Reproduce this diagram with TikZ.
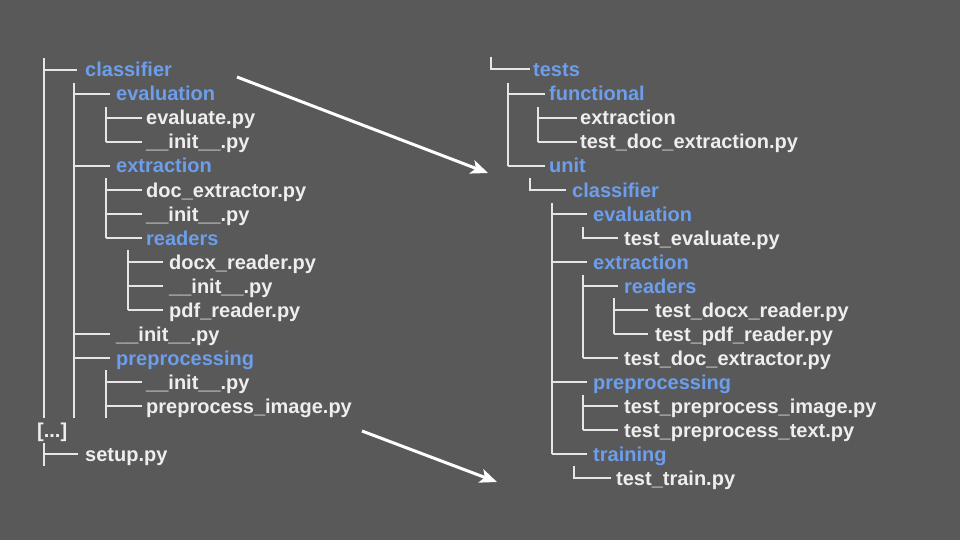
\documentclass[tikz,border=0pt]{standalone}
\usepackage{fontspec}
\setmainfont{Liberation Sans}
\usetikzlibrary{arrows.meta}
\definecolor{bg}{HTML}{595959}
\definecolor{fg}{HTML}{EEEEEE}
\definecolor{dirblue}{HTML}{6D9EEB}
\definecolor{linegray}{HTML}{E6E6E6}
\begin{document}
\begin{tikzpicture}[x=1pt,y=-1pt,
  tl/.style={draw=linegray,line width=1.4pt},
  fl/.style={anchor=base west,inner sep=0pt,yshift=-7pt,text=fg,font=\fontsize{20}{24}\selectfont\bfseries},
  dl/.style={fl,text=dirblue},
  bigarrow/.style={draw=white,line width=3pt,-{Stealth[length=17pt,width=14pt,inset=4pt]}}]
\fill[bg] (0,0) rectangle (960,540);
\useasboundingbox (0,0) rectangle (960,540);
% ---------- left tree ----------
\node[dl] (lclassifier) at (85,70) {classifier};
\node[dl] (levaluation) at (116,94) {evaluation};
\node[fl] (levaluate) at (146,118) {evaluate.py};
\node[fl] (linita) at (146,142) {\_\_init\_\_.py};
\node[dl] (lextraction) at (116,166) {extraction};
\node[fl] (ldocext) at (146,190) {doc\_extractor.py};
\node[fl] (linitb) at (146,214) {\_\_init\_\_.py};
\node[dl] (lreaders) at (146,238) {readers};
\node[fl] (ldocx) at (169,262) {docx\_reader.py};
\node[fl] (linitc) at (169,286) {\_\_init\_\_.py};
\node[fl] (lpdf) at (169,310) {pdf\_reader.py};
\node[fl] (linitd) at (116,334) {\_\_init\_\_.py};
\node[dl] (lprep) at (116,358) {preprocessing};
\node[fl] (linite) at (146,382) {\_\_init\_\_.py};
\node[fl] (lprepimg) at (146,406) {preprocess\_image.py};
\node[fl] (ldots) at (37,430) {[...]};
\node[fl] (lsetup) at (85,454) {setup.py};
\draw[tl] (44,58) -- (44,418);
\draw[tl] (44,70) -- (77,70);
\draw[tl] (74,83) -- (74,418);
\foreach \y in {94,166,334,358} \draw[tl] (74,\y) -- (110,\y);
\draw[tl] (106,107) -- (106,142);
\foreach \y in {118,142} \draw[tl] (106,\y) -- (142,\y);
\draw[tl] (106,178) -- (106,238);
\foreach \y in {190,214,238} \draw[tl] (106,\y) -- (142,\y);
\draw[tl] (128,250) -- (128,310);
\foreach \y in {262,286,310} \draw[tl] (128,\y) -- (163,\y);
\draw[tl] (106,370) -- (106,418);
\foreach \y in {382,406} \draw[tl] (106,\y) -- (142,\y);
\draw[tl] (44,443) -- (44,466);
\draw[tl] (44,454) -- (78,454);
% ---------- right tree ----------
\node[dl] (rtests) at (533,70) {tests};
\node[dl] (rfunc) at (549,94) {functional};
\node[fl] (rfext) at (580,118) {extraction};
\node[fl] (rtde) at (580,142) {test\_doc\_extraction.py};
\node[dl] (runit) at (549,166) {unit};
\node[dl] (rclass) at (572,190) {classifier};
\node[dl] (reval) at (593,214) {evaluation};
\node[fl] (rteval) at (624,238) {test\_evaluate.py};
\node[dl] (rext) at (593,262) {extraction};
\node[dl] (rreaders) at (624,286) {readers};
\node[fl] (rtdocx) at (655,310) {test\_docx\_reader.py};
\node[fl] (rtpdf) at (655,334) {test\_pdf\_reader.py};
\node[fl] (rtdocext) at (624,358) {test\_doc\_extractor.py};
\node[dl] (rprep) at (593,382) {preprocessing};
\node[fl] (rtpimg) at (624,406) {test\_preprocess\_image.py};
\node[fl] (rtptxt) at (624,430) {test\_preprocess\_text.py};
\node[dl] (rtrain) at (593,454) {training};
\node[fl] (rttrain) at (616,478) {test\_train.py};
\draw[tl] (491,57) -- (491,69) -- (530,69);
\draw[tl] (508,83) -- (508,166);
\foreach \y in {94,166} \draw[tl] (508,\y) -- (545,\y);
\draw[tl] (538,107) -- (538,142);
\foreach \y in {118,142} \draw[tl] (538,\y) -- (577,\y);
\draw[tl] (530,178) -- (530,190) -- (566,190);
\draw[tl] (552,203) -- (552,454);
\foreach \y in {214,262,382,454} \draw[tl] (552,\y) -- (587,\y);
\draw[tl] (583,227) -- (583,238) -- (618,238);
\draw[tl] (583,275) -- (583,358);
\foreach \y in {286,358} \draw[tl] (583,\y) -- (618,\y);
\draw[tl] (614,298) -- (614,334);
\foreach \y in {310,334} \draw[tl] (614,\y) -- (648,\y);
\draw[tl] (583,395) -- (583,430);
\foreach \y in {406,430} \draw[tl] (583,\y) -- (618,\y);
\draw[tl] (574,466) -- (574,478) -- (611,478);
% ---------- arrows ----------
\coordinate (a1s) at (237,77);
\coordinate (a1e) at (488,173);
\coordinate (a2s) at (362,431);
\coordinate (a2e) at (497,482);
\draw[bigarrow] (a1s) -- (a1e);
\draw[bigarrow] (a2s) -- (a2e);
\end{tikzpicture}
\end{document}
